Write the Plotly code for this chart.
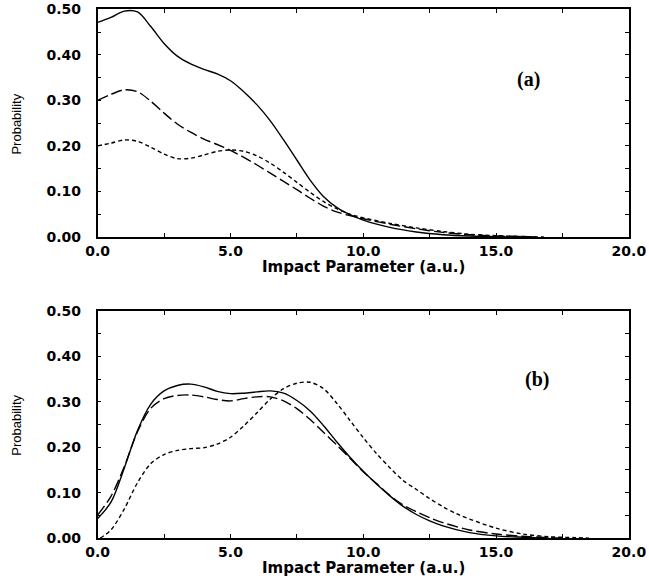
import plotly.graph_objects as go

# ---------------- Panel (a) ----------------
a_solid_x = [0, 0.5, 1.0, 1.5, 2.0, 2.5, 3.0, 3.5, 4.0, 4.5, 5.0, 5.5, 6.0, 6.5, 7.0, 7.5, 8.0, 8.5, 9.0, 9.5, 10, 11, 12, 13, 14, 15, 16]
a_solid_y = [0.471, 0.482, 0.496, 0.494, 0.462, 0.425, 0.397, 0.380, 0.368, 0.358, 0.343, 0.319, 0.290, 0.255, 0.213, 0.169, 0.125, 0.089, 0.065, 0.049, 0.037, 0.021, 0.011, 0.005, 0.002, 0.0005, 0.0]

a_long_x = [0, 0.5, 1.0, 1.5, 2.0, 2.5, 3.0, 3.5, 4.0, 4.5, 5.0, 5.5, 6.0, 6.5, 7.0, 7.5, 8.0, 8.5, 9.0, 9.5, 10, 11, 12, 13, 14, 15, 16, 16.5]
a_long_y = [0.300, 0.313, 0.323, 0.319, 0.298, 0.272, 0.248, 0.230, 0.215, 0.203, 0.190, 0.175, 0.158, 0.140, 0.122, 0.104, 0.085, 0.068, 0.055, 0.047, 0.040, 0.028, 0.018, 0.010, 0.005, 0.002, 0.001, 0.0]

a_short_x = [0, 0.5, 1.0, 1.5, 2.0, 2.5, 3.0, 3.5, 4.0, 4.5, 5.0, 5.5, 6.0, 6.5, 7.0, 7.5, 8.0, 8.5, 9.0, 9.5, 10, 11, 12, 13, 14, 15, 16, 16.8]
a_short_y = [0.200, 0.206, 0.213, 0.210, 0.197, 0.182, 0.172, 0.173, 0.180, 0.188, 0.191, 0.188, 0.178, 0.162, 0.142, 0.120, 0.098, 0.078, 0.062, 0.050, 0.042, 0.030, 0.020, 0.012, 0.006, 0.003, 0.001, 0.0]

# ---------------- Panel (b) ----------------
b_solid_x = [0, 0.5, 1.0, 1.5, 2.0, 2.5, 3.0, 3.5, 4.0, 4.5, 5.0, 5.5, 6.0, 6.5, 7.0, 7.5, 8.0, 8.5, 9.0, 9.5, 10.0, 10.5, 11.0, 11.5, 12.0, 12.5, 13, 14, 15, 16, 17]
b_solid_y = [0.043, 0.079, 0.154, 0.237, 0.295, 0.324, 0.336, 0.339, 0.333, 0.323, 0.318, 0.319, 0.322, 0.324, 0.319, 0.303, 0.280, 0.248, 0.212, 0.178, 0.147, 0.119, 0.093, 0.070, 0.052, 0.038, 0.027, 0.012, 0.005, 0.002, 0.0]

b_long_x = [0, 0.5, 1.0, 1.5, 2.0, 2.5, 3.0, 3.5, 4.0, 4.5, 5.0, 5.5, 6.0, 6.5, 7.0, 7.5, 8.0, 8.5, 9.0, 9.5, 10.0, 10.5, 11.0, 11.5, 12.0, 12.5, 13, 14, 15, 16, 17, 17.5]
b_long_y = [0.051, 0.092, 0.157, 0.234, 0.286, 0.307, 0.314, 0.315, 0.311, 0.305, 0.302, 0.307, 0.311, 0.311, 0.302, 0.285, 0.261, 0.233, 0.205, 0.176, 0.146, 0.120, 0.094, 0.073, 0.058, 0.045, 0.034, 0.018, 0.009, 0.004, 0.001, 0.0]

b_short_x = [0.1, 0.5, 1.0, 1.5, 2.0, 2.5, 3.0, 3.5, 4.0, 4.5, 5.0, 5.5, 6.0, 6.5, 7.0, 7.5, 8.0, 8.5, 9.0, 9.5, 10.0, 10.5, 11.0, 11.5, 12.0, 12.5, 13.0, 13.5, 14.0, 15, 16, 17, 18, 18.5]
b_short_y = [0.0, 0.018, 0.064, 0.122, 0.164, 0.184, 0.193, 0.197, 0.199, 0.207, 0.222, 0.247, 0.276, 0.306, 0.329, 0.341, 0.343, 0.329, 0.297, 0.259, 0.221, 0.186, 0.155, 0.127, 0.107, 0.087, 0.069, 0.054, 0.042, 0.022, 0.009, 0.003, 0.001, 0.0]

x_title = "Impact Parameter (a.u.)"
y_title = "Probability"
panel_labels = ["(a)", "(b)"]

SOLID = "solid"
LONG = "11px,4px"
SHORT = "4px,3px"

fig = go.Figure()

def add(x, y, dash, xa, ya):
    fig.add_trace(go.Scatter(x=x, y=y, mode="lines", xaxis=xa, yaxis=ya,
                             line=dict(color="black", width=1.4, dash=dash, shape="spline", smoothing=0.9),
                             showlegend=False, hoverinfo="skip"))

add(a_solid_x, a_solid_y, SOLID, "x", "y")
add(a_long_x, a_long_y, LONG, "x", "y")
add(a_short_x, a_short_y, SHORT, "x", "y")
add(b_solid_x, b_solid_y, SOLID, "x2", "y2")
add(b_long_x, b_long_y, LONG, "x2", "y2")
add(b_short_x, b_short_y, SHORT, "x2", "y2")

tick_font = dict(family="DejaVu Sans", size=14, color="black", weight="bold")

def xaxis(anchor):
    return dict(domain=[0.1505, 0.969], range=[0, 20], anchor=anchor,
                dtick=5, tick0=0, tickformat=".1f", ticks="inside", ticklen=4,
                tickcolor="black", tickwidth=1, mirror="ticks", showline=True,
                linecolor="black", linewidth=1.5, showgrid=False, zeroline=False,
                tickfont=tick_font, ticklabelstandoff=0, automargin=False,
                minor=dict(dtick=2.5, ticks="inside", ticklen=4, tickcolor="black", showgrid=False))

def yaxis(anchor, dom):
    return dict(domain=dom, range=[0, 0.5], anchor=anchor,
                dtick=0.1, tick0=0, tickformat=".2f", ticks="inside", ticklen=4,
                tickcolor="black", tickwidth=1, mirror="ticks", showline=True,
                linecolor="black", linewidth=1.5, showgrid=False, zeroline=False,
                tickfont=tick_font, ticklabelstandoff=12, automargin=False,
                minor=dict(dtick=0.05, ticks="inside", ticklen=4, tickcolor="black", showgrid=False))

fig.update_layout(
    width=649, height=578,
    margin=dict(l=0, r=0, t=0, b=0),
    paper_bgcolor="white", plot_bgcolor="white",
    xaxis=xaxis("y"), yaxis=yaxis("x", [0.590, 0.984]),
    xaxis2=xaxis("y2"), yaxis2=yaxis("x2", [0.069, 0.462]),
)

title_font = dict(family="DejaVu Sans", size=15, color="black", weight="bold")
ylab_font = dict(family="Liberation Sans Narrow, Liberation Sans, Arial", size=13, color="black")
lab_font = dict(family="Liberation Serif, Times New Roman, serif", size=20, color="black", weight="bold")

for yc in [0.538, 0.0173]:
    fig.add_annotation(text=x_title, xref="paper", yref="paper", x=0.5595, y=yc,
                       showarrow=False, font=title_font, xanchor="center", yanchor="middle")
for yc in [0.786, 0.265]:
    fig.add_annotation(text=y_title, xref="paper", yref="paper", x=0.026, y=yc,
                       showarrow=False, font=ylab_font, textangle=-90,
                       xanchor="center", yanchor="middle")
fig.add_annotation(text=panel_labels[0], xref="paper", yref="paper", x=0.815, y=0.863,
                   showarrow=False, font=lab_font, xanchor="center", yanchor="middle")
fig.add_annotation(text=panel_labels[1], xref="paper", yref="paper", x=0.827, y=0.344,
                   showarrow=False, font=lab_font, xanchor="center", yanchor="middle")

fig.write_html("out.html", config={"displayModeBar": False},
               post_script="document.body.style.margin='0';document.body.style.overflow='hidden';")
